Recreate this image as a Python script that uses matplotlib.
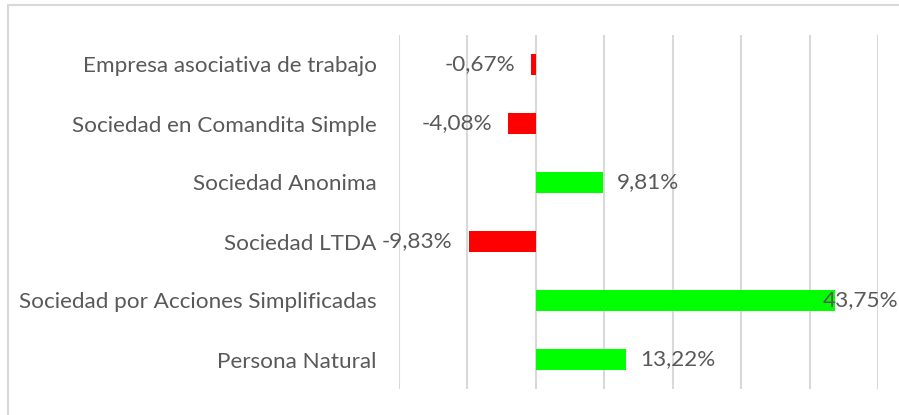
import matplotlib.pyplot as plt
from matplotlib.patches import Rectangle

categories = ['Empresa asociativa de trabajo', 'Sociedad en Comandita Simple',
              'Sociedad Anonima', 'Sociedad LTDA',
              'Sociedad por Acciones Simplificadas', 'Persona Natural']
values = [-0.67, -4.08, 9.81, -9.83, 43.75, 13.22]

plt.rcParams['font.family'] = ['Lato', 'DejaVu Sans']
text_color = '#595959'
grid_color = '#d9d9d9'
fsize = 16.2

W, H = 899, 415
fig = plt.figure(figsize=(W / 100, H / 100), dpi=100)
ax = fig.add_axes([399 / W, 1 - 389 / H, (878 - 399) / W, (389 - 35) / H])

# chart frame (only top and left edges fall inside the picture)
fig.patches.append(Rectangle((8 / W, -0.1), 1.2, 1 - 5 / H + 0.1,
                             transform=fig.transFigure, fill=False,
                             edgecolor=grid_color, linewidth=1.5))

ypos = list(range(len(categories)))
colors = ['#00ff00' if v >= 0 else '#ff0000' for v in values]
ax.barh(ypos, values, height=0.36, color=colors, zorder=3)

ax.set_xlim(-20, 50)
ax.set_ylim(len(categories) - 0.5, -0.5)
ax.set_xticks(range(-20, 51, 10))
ax.xaxis.grid(True, color=grid_color, linewidth=1.5, zorder=0)
ax.tick_params(axis='x', length=0, labelbottom=False)
ax.tick_params(axis='y', length=0, pad=16, labelsize=fsize, labelcolor=text_color)
ax.set_yticks(ypos)
ax.set_yticklabels(categories)
for s in ax.spines.values():
    s.set_visible(False)

fig.canvas.draw()
renderer = fig.canvas.get_renderer()
for y, v in zip(ypos, values):
    label = f'{v:.2f}'.replace('.', ',') + '%'
    if v >= 0:
        t = ax.annotate(label, (v, y), xytext=(14, 0), textcoords='offset pixels',
                        ha='left', va='center', fontsize=fsize, color=text_color)
    else:
        t = ax.annotate(label, (v, y), xytext=(-16, 0), textcoords='offset pixels',
                        ha='right', va='center', fontsize=fsize, color=text_color)
    bb = t.get_window_extent(renderer)
    if bb.x1 > W - 1:
        t.xyann = (t.xyann[0] - (bb.x1 - (W - 1)), 0)

fig.savefig('out.png', dpi=100)
